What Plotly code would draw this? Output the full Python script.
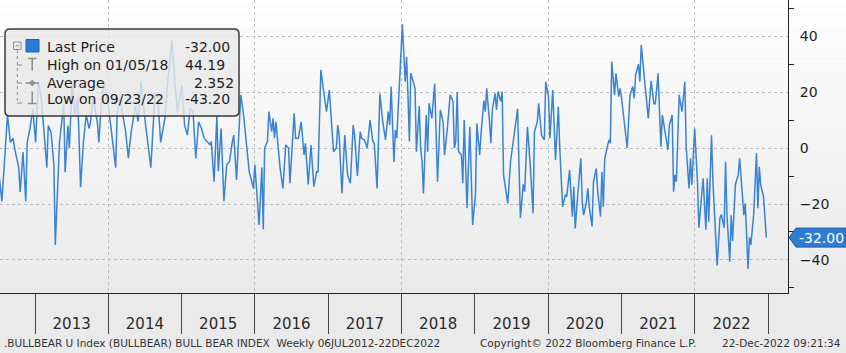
import numpy as np
import pandas as pd
import plotly.graph_objects as go

# ---------------- data ----------------
start_date = "2012-07-06"
week_index = [
    0, 2, 6, 8, 10, 11, 14, 15, 17, 19, 20, 22, 24, 26, 28, 30, 34, 35, 37, 39,
    40, 42, 43, 46, 47, 49, 50, 52, 54, 56, 58, 60, 62, 64, 65, 67, 70, 71, 73, 75,
    78, 80, 83, 84, 86, 90, 92,
    94, 97, 99, 101, 104, 106, 108, 111, 113, 115, 118, 120, 123, 125, 127, 130, 132, 134, 136, 138,
    140, 142, 144, 146, 148, 150, 151, 153, 155, 156, 158, 160, 162, 164, 166, 167, 169, 171, 172, 174,
    176, 178, 181, 182, 184,
    185, 187, 188, 189, 191, 192, 194, 195, 196, 197, 198, 200, 202, 204, 206, 207, 210, 211, 213, 215,
    217, 218, 220, 222, 224, 226, 227, 229, 231, 233, 235, 236, 238, 240, 241, 242, 244, 246, 248, 250,
    252, 253, 255, 257, 258, 260, 262, 264, 266, 267, 269, 271, 273, 275,
    277, 278, 279, 281, 282, 283, 285, 286, 287, 289, 290, 291, 292, 293, 295, 296, 297, 299, 300, 301,
    302, 304, 305, 306, 308, 310, 312, 314, 316, 317, 319, 321, 323, 324, 325, 326, 327, 329, 330, 331,
    333, 335, 337, 339, 340, 342, 343, 345, 346, 347, 349, 350, 351, 353, 354, 355, 357, 358, 359, 362,
    364, 365,
    367, 369, 370, 371, 373, 374, 376, 378, 380, 381, 383, 384, 386, 388, 389, 391, 392, 394, 396, 398,
    399, 400, 401, 403, 404, 406, 408, 409, 410, 412, 414, 415, 416, 418, 419, 420, 422, 423, 425, 426,
    428, 429, 430, 431, 433, 434, 435, 436, 438, 439, 441, 442, 443, 445, 447, 449, 451, 452, 453, 455,
    456, 457,
    458, 460, 461, 462, 464, 466, 467, 469, 470, 471, 472, 474, 476, 477, 479, 480, 481, 482, 484, 486,
    488, 489, 491, 492, 493, 495, 497, 498, 500, 501, 503, 504, 505, 507, 508, 510, 511, 513, 514, 516,
    517, 518, 520, 521, 522, 524, 526, 527, 528, 530, 531, 533, 534, 535, 537, 539, 540, 541, 542, 544,
    546,
]
bull_bear = [
    -9.6, -19, 11.8, 2, 3.5, 0, -7, -15.7, -1.4, -19, 2, 7, 14, 2, 23.5, 18, -7, 8, 5.7, -6,
    -34.6, -12, 2, 16, -8.6, 8, 0, 23.5, 12, 18, -14, 2, 12, 7, 9, 18, 9, 2, 18, 23.5,
    14, 5.7, -7, 12, 18, 6, -3.6,
    5.8, 15, 9.4, 23.7, 9.4, 0, -7, 20, 17.7, 2, 10.6, 23.7, 38.6, 23.7, 13, 22.5, 8.2, 4.6, 14.1, 13,
    -3.7, 9.4, 7, 3.5, 2.3, 1.2, 2.3, -12, 11.8, -8.3, 7, -19, -6, -4.8, 2.3, 4.6, -11.4, 10.6, 19, 11.8,
    2.3, -8.4, -14.4, -6, -20,
    -27.5, -7, -29, 0, 2.4, 13, 5.9, 10.6, 3.5, 9.4, 3.5, -7.3, -14.4, 1.1, 0, -12.6, 12.4, 3.5, 3.5, 9.4,
    -2.5, 1.7, -13, 1.1, -13.8, -8.5, -8.5, 27.9, 20.1, 13, 20.7, 14.1, -1.3, 0, 8.2, 4.6, -16.2, 4.6, -9.6, -12.6,
    8.2, 4.6, -10, 5.9, 3.5, 2.9, 0, 10, 2.3, 1.7, -14.4, 19.5, 9.4, 2.9,
    13, 8.2, 22, -5, 6.4, 3.5, 23.7, 35.6, 44.19, 23.7, 32.6, 18.6, 2.3, 26.7, 22.6, 21.4, -1.3, 15, -0.1, -4.8,
    -16.2, 11.8, -1.3, 16, 10.6, 23, -12, 13.6, 9.4, -2.5, 7, 19, 16.7, 0, 2.3, 20, -1.3, -2.5, -12.6, 10,
    -21.5, 7.6, -27.5, -16.8, 8.8, -2.5, 5.2, 17, 13, 21.3, 9.4, 1.7, 13.6, 19.5, 13.6, 20.2, 16.7, 20.2, -9.6, -19.8,
    -4.8, -1.3,
    7, 14, -6, -25, -13, -15.6, 7.6, -6, -23.3, 5.8, 9.4, 16, 4.6, 2.9, 23.7, 18.4, 3.5, 20.7, -4.3, 14.8,
    0, -8.5, -21, -16.7, -17.3, -7.9, -24.5, -13.8, -28.7, -15.6, -3.7, -19.2, -24, -19.2, -14.4, -21, -28, -12, -7.3, -15.6,
    -24.5, -8.5, -21, -3.7, 0.5, 2.9, 1.7, 30.8, 19, 26.7, 18.4, 21.3, 17.7, 9.4, 0, 19, 22, 17.7, 26.2, 30,
    23.7, 36.8,
    31, 21.3, 16.5, 10.6, 24, 15.8, 15.8, 26.7, 13, 0.5, 11.8, 4.6, -0.7, 8.2, 11.8, -15.6, -9.6, -12, 19, 13,
    23.7, 0, -14.4, -3.7, -13.2, 7, -12, -28.5, -14.4, -10.8, -29.2, -10.8, -26.3, 4.6, -12, -31.7, -42, -25, -23.8, -28.5,
    -4.9, -24, -40.6, -24, -33.2, -13, -9.6, -3.7, -9.6, -24, -19.8, -43.2, -31.9, -34.6, -23.8, -1.9, -21.5, -6.7, -13.2, -17.4,
    -32,
]
average_value = 2.352
y_major_ticks = [-40, -20, 0, 20, 40]

# ---------------- derived ----------------
dates = pd.Timestamp(start_date) + pd.to_timedelta(np.array(week_index) * 7, unit="D")
vals = np.array(bull_bear, dtype=float)
last_val = vals[-1]
i_hi = int(np.argmax(vals))
i_lo = int(np.argmin(vals))
hi_lbl = dates[i_hi].strftime("%m/%d/%y")
lo_lbl = dates[i_lo].strftime("%m/%d/%y")

W, H = 846, 353
PW, PH = 788, 293          # plot area in pixels
XR = ["2012-07-10 14:00", "2023-04-10"]
YR = [-51.8, 52.9]
FONT = "DejaVu Sans"
BLUE = "#3a83d2"

def px(x):
    return x / PW

def py(y):
    return 1 - y / PH

fig = go.Figure()
fig.add_trace(go.Scatter(x=dates, y=vals, mode="lines",
                         line=dict(color=BLUE, width=1.5), hoverinfo="skip", showlegend=False))
for ax in ("x2", "x3"):
    fig.add_trace(go.Scatter(x=[dates[0]], y=[vals[0]], mode="markers", xaxis=ax, yaxis="y",
                             marker=dict(opacity=0), hoverinfo="skip", showlegend=False))
fig.add_trace(go.Scatter(x=[1.0058] * len(y_major_ticks), y=y_major_ticks, mode="markers",
                         xaxis="x4", yaxis="y", cliponaxis=False,
                         marker=dict(symbol="triangle-right", size=8, color="#111"),
                         hoverinfo="skip", showlegend=False))

shapes = []
# background gradient
N = 40
top_c = np.array([255, 255, 255])
bot_c = np.array([234, 234, 234])
for i in range(N):
    c = top_c + (bot_c - top_c) * (i + 0.5) / N
    shapes.append(dict(type="rect", xref="paper", yref="paper", x0=0, x1=W / PW,
                       y0=1 - (i + 1) / N, y1=1 - i / N, layer="below",
                       fillcolor="rgb(%d,%d,%d)" % tuple(c.astype(int)), line=dict(width=0)))

# legend box (rounded)
def rrect(x0, y0, x1, y1, r):
    return ("M {a},{b} L {c},{b} Q {x1},{b} {x1},{d} L {x1},{e} Q {x1},{y1} {c},{y1} "
            "L {a},{y1} Q {x0},{y1} {x0},{e} L {x0},{d} Q {x0},{b} {a},{b} Z").format(
        a=px(x0 + r), b=py(y0), c=px(x1 - r), d=py(y0 + r), e=py(y1 - r),
        x0=px(x0), x1=px(x1), y1=py(y1))

shapes.append(dict(type="path", xref="paper", yref="paper", path=rrect(5, 29, 239, 116, 5),
                   fillcolor="rgba(232,232,232,0.82)", line=dict(color="#3a3a3a", width=1.5), layer="above"))

def seg(x0, y0, x1, y1, color="#8c8c8c", width=1.2, dash="solid"):
    shapes.append(dict(type="line", xref="paper", yref="paper", x0=px(x0), y0=py(y0), x1=px(x1), y1=py(y1),
                       line=dict(color=color, width=width, dash=dash), layer="above"))

# tree
shapes.append(dict(type="rect", xref="paper", yref="paper", x0=px(13.5), x1=px(21), y0=py(49.5), y1=py(42),
                   line=dict(color="#8c8c8c", width=1), fillcolor="rgba(0,0,0,0)", layer="above"))
seg(15.5, 45.8, 19, 45.8, width=1)
seg(17.3, 50, 17.3, 103, dash="dot", width=1)
for yy in (65, 83, 103):
    seg(17.3, yy, 22, yy, width=1)
# blue square
shapes.append(dict(type="rect", xref="paper", yref="paper", x0=px(26), x1=px(39), y0=py(52), y1=py(39.5),
                   fillcolor="#2c7bd6", line=dict(color="#1f62b0", width=1), layer="above"))
# high icon
seg(28, 58.5, 36.5, 58.5, width=1.5)
seg(32.2, 58.5, 32.2, 70.5, width=1.5)
# average icon
seg(25.5, 83, 39, 83, width=1.5)
shapes.append(dict(type="path", xref="paper", yref="paper", layer="above",
                   path="M {},{} L {},{} L {},{} L {},{} Z".format(px(32.2), py(80), px(35.2), py(83),
                                                                 px(32.2), py(86), px(29.2), py(83)),
                   fillcolor="#8c8c8c", line=dict(color="#8c8c8c", width=0.5)))
# low icon
seg(32.2, 91.5, 32.2, 103.5, width=1.5)
seg(28, 103.5, 36.5, 103.5, width=1.5)

# price tag
hh = 3.4
tag = "M {},{} L {},{} L {},{} L {},{} L {},{} Z".format(
    px(789), last_val, px(796), last_val + hh, W / PW, last_val + hh, W / PW, last_val - hh, px(796), last_val - hh)
shapes.append(dict(type="path", xref="paper", yref="y", path=tag, fillcolor="#2f7dd3",
                   line=dict(color="#1c5ea8", width=1), layer="above"))

ann = []
def txt(x, y, s, size=14, anchor="left", color="#1e1e1e"):
    ann.append(dict(x=px(x), y=py(y), xref="paper", yref="paper", text=s, showarrow=False,
                    xanchor=anchor, yanchor="middle", font=dict(family=FONT, size=size, color=color)))

rows = [47.5, 65, 82.5, 99]
txt(45, rows[0], "Last Price")
txt(45, rows[1], "High on " + hi_lbl)
txt(45, rows[2], "Average")
txt(45, rows[3], "Low on " + lo_lbl)
txt(183, rows[0], "%.2f" % last_val)
txt(183, rows[1], "%.2f" % vals[i_hi])
txt(192, rows[2], "%.3f" % average_value)
txt(183, rows[3], "%.2f" % vals[i_lo])

ann.append(dict(x=px(821), y=last_val, xref="paper", yref="y", text="%.2f" % last_val, showarrow=False,
                xanchor="center", yanchor="middle", font=dict(family=FONT, size=14, color="white")))

txt(2, 343, ".BULLBEAR U Index (BULLBEAR) BULL BEAR INDEX  Weekly 06JUL2012-22DEC2022", size=10.5, color="#333")
txt(478, 343, "Copyright\u00a9 2022 Bloomberg Finance L.P.", size=10.5, color="#333")
txt(843, 343, "22-Dec-2022 09:21:34", size=10.5, anchor="right", color="#333")

grid = dict(showgrid=True, gridcolor="#bdbdbd", griddash="dot", gridwidth=1)

fig.update_layout(
    width=W, height=H, margin=dict(l=0, r=W - PW, t=0, b=H - PH),
    paper_bgcolor="#eaeaea", plot_bgcolor="rgba(0,0,0,0)",
    font=dict(family=FONT, color="#1e1e1e"),
    shapes=shapes, annotations=ann, showlegend=False,
    xaxis=dict(type="date", range=XR, tick0="2014-01-01", dtick="M24", ticks="", showticklabels=False,
               showline=True, linecolor="#222", linewidth=1, zeroline=False, **grid),
    xaxis2=dict(type="date", range=XR, overlaying="x", anchor="y", side="bottom",
                tick0="2013-01-01", dtick="M12", ticks="outside", ticklen=40, tickcolor="#444", tickwidth=1,
                showticklabels=False, showgrid=False, showline=False, zeroline=False),
    xaxis3=dict(type="date", range=XR, overlaying="x", anchor="y", side="bottom",
                tick0="2013-01-01", dtick="M12", ticklabelmode="period", tickformat="%Y",
                ticks="outside", ticklen=17, tickcolor="rgba(0,0,0,0)",
                showgrid=False, showline=False, zeroline=False,
                tickfont=dict(family=FONT, size=15, color="#2a2a2a")),
    xaxis4=dict(range=[0, 1], overlaying="x", visible=False),
    yaxis=dict(side="right", range=YR, tick0=0, dtick=20, ticks="outside", ticklen=8,
               tickcolor="rgba(0,0,0,0)", showline=True, linecolor="#222", linewidth=1, zeroline=False,
               tickfont=dict(family=FONT, size=14, color="#1e1e1e"),
               minor=dict(dtick=10, ticks="outside", ticklen=5, tickcolor="#222", tickwidth=1, showgrid=False),
               **grid),
)

fig.write_html("out.html")
